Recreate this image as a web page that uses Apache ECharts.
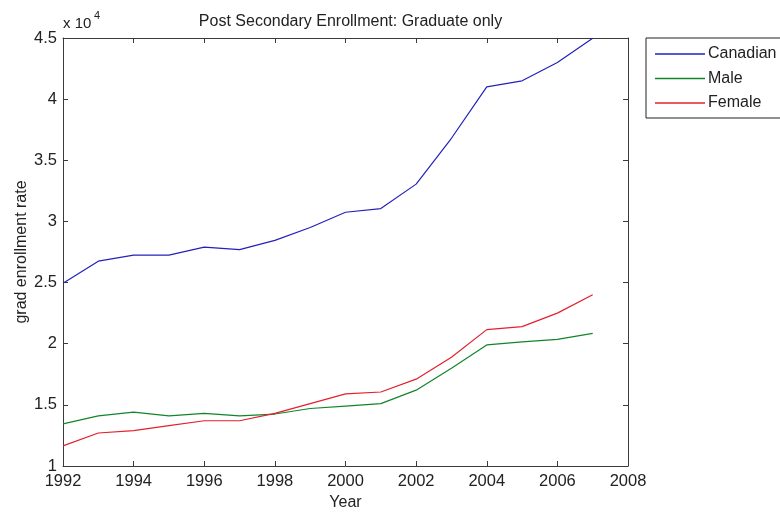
<!DOCTYPE html>
<html>
<head>
<meta charset="utf-8">
<script src="https://cdn.jsdelivr.net/npm/echarts@6/dist/echarts.min.js"></script>
<style>
  html, body { margin: 0; padding: 0; background: #fff; }
  #chart { width: 780px; height: 512px; }
</style>
</head>
<body>
<div id="chart"></div>
<script>
// Graduate enrollment, 1992-2007
const years = [1992, 1993, 1994, 1995, 1996, 1997, 1998, 1999, 2000, 2001, 2002, 2003, 2004, 2005, 2006, 2007];
const canadian = [24950, 26750, 27250, 27250, 27900, 27700, 28450, 29500, 30750, 31050, 33050, 36800, 41000, 41500, 43000, 44970];
const male = [13450, 14100, 14400, 14100, 14300, 14100, 14250, 14700, 14900, 15100, 16200, 18000, 19900, 20150, 20350, 20850];
const female = [11650, 12700, 12900, 13300, 13700, 13700, 14300, 15100, 15900, 16050, 17100, 18900, 21150, 21400, 22500, 24000];
const seriesNames = ['Canadian', 'Male', 'Female'];

const FONT = '"Liberation Sans", Arial, sans-serif';
const INK = '#222';
const AXIS = '#3a3a3a';

const pairs = vals => years.map((y, i) => [y, vals[i]]);

const chart = echarts.init(document.getElementById('chart'), null, { renderer: 'canvas' });

const tickStyle = { show: true, inside: true, length: 5, lineStyle: { color: AXIS, width: 1 } };
const lineStyleAxis = { show: true, lineStyle: { color: AXIS, width: 1 } };

chart.setOption({
  animation: false,
  backgroundColor: '#fff',
  textStyle: { fontFamily: FONT },
  title: {
    text: 'Post Secondary Enrollment: Graduate only',
    left: 345.5,
    textAlign: 'center',
    top: 9,
    textStyle: { fontFamily: FONT, fontSize: 16, fontWeight: 'normal', color: INK }
  },
  grid: { left: 63, top: 38, right: 152, bottom: 46, containLabel: false, outerBoundsMode: 'none' },
  legend: {
    data: seriesNames,
    orient: 'vertical',
    left: 646,
    top: 38,
    icon: 'rect',
    itemWidth: 50,
    itemHeight: 1.5,
    itemGap: 8.5,
    padding: [8, 20, 7, 9],
    borderColor: '#222',
    borderWidth: 1,
    textStyle: { fontFamily: FONT, fontSize: 16, color: INK, lineHeight: 15, padding: [0, 0, 0, -2] }
  },
  graphic: [
    {
      type: 'text', left: 63, top: 16,
      style: { text: 'x 10', font: '15px ' + FONT, fill: INK }
    },
    {
      type: 'text', left: 94, top: 10,
      style: { text: '4', font: '11px ' + FONT, fill: INK }
    }
  ],
  xAxis: [
    {
      type: 'value', position: 'bottom',
      min: 1992, max: 2008, interval: 2,
      name: 'Year', nameLocation: 'middle', nameGap: 26,
      nameTextStyle: { fontFamily: FONT, fontSize: 16, color: INK },
      axisLine: lineStyleAxis, axisTick: tickStyle,
      axisLabel: { show: true, margin: 7, fontFamily: FONT, fontSize: 16.5, color: INK, formatter: v => String(v) },
      splitLine: { show: false }
    },
    {
      type: 'value', position: 'top',
      min: 1992, max: 2008, interval: 2,
      axisLine: lineStyleAxis, axisTick: tickStyle,
      axisLabel: { show: false }, splitLine: { show: false }
    }
  ],
  yAxis: [
    {
      type: 'value', position: 'left',
      min: 10000, max: 45000, interval: 5000,
      name: 'grad enrollment rate', nameLocation: 'middle', nameGap: 33, nameMoveOverlap: false,
      nameTextStyle: { fontFamily: FONT, fontSize: 16, color: INK },
      axisLine: lineStyleAxis, axisTick: tickStyle,
      axisLabel: { show: true, margin: 6, fontFamily: FONT, fontSize: 16.5, color: INK, formatter: v => String(v / 10000) },
      splitLine: { show: false }
    },
    {
      type: 'value', position: 'right',
      min: 10000, max: 45000, interval: 5000,
      axisLine: lineStyleAxis, axisTick: tickStyle,
      axisLabel: { show: false }, splitLine: { show: false }
    }
  ],
  series: [
    { name: seriesNames[0], type: 'line', data: pairs(canadian), symbol: 'none', color: '#2222bb', lineStyle: { width: 1.2 } },
    { name: seriesNames[1], type: 'line', data: pairs(male), symbol: 'none', color: '#12852a', lineStyle: { width: 1.2 } },
    { name: seriesNames[2], type: 'line', data: pairs(female), symbol: 'none', color: '#e3202c', lineStyle: { width: 1.2 } }
  ]
});
</script>
</body>
</html>
